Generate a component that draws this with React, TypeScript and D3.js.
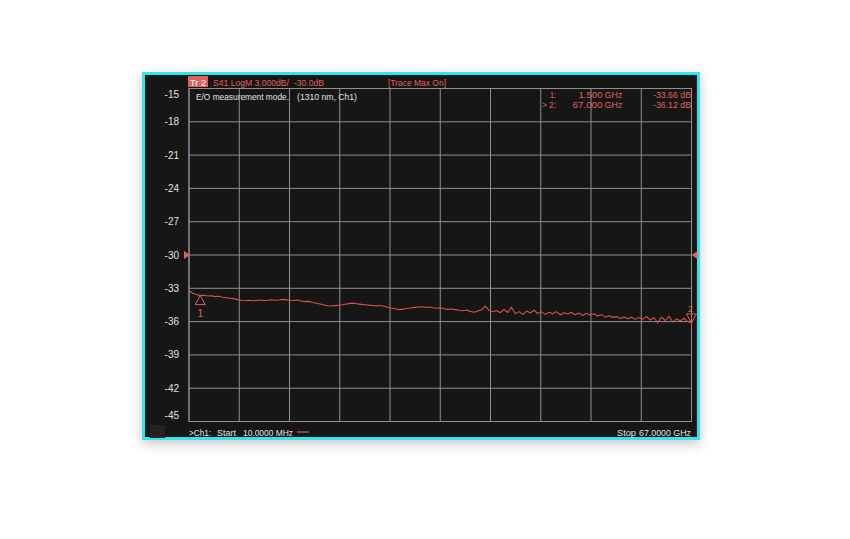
import React from "react";
import * as d3 from "d3";

// ---- data ----
const yTicks = [-15, -18, -21, -24, -27, -30, -33, -36, -39, -42, -45];
const freqStartGHz = 0.01;
const freqStopGHz = 67;
const freqStepGHz = 0.5;
const traceDb = [
  -33.2, -33.45, -33.55, -33.66, -33.62, -33.7, -33.68, -33.75, -33.72, -33.8,
  -33.85, -33.9, -33.95, -34.02, -34.1, -34.12, -34.08, -34.12, -34.1, -34.06,
  -34.1, -34.08, -34.03, -34.08, -34.05, -34.0, -34.04, -34.08, -34.1, -34.06,
  -34.15, -34.2, -34.18, -34.28, -34.35, -34.42, -34.5, -34.58, -34.6, -34.56,
  -34.52, -34.48, -34.42, -34.36, -34.34, -34.4, -34.45, -34.48, -34.52, -34.55,
  -34.58, -34.55, -34.62, -34.7, -34.78, -34.85, -34.92, -34.88, -34.82, -34.78,
  -34.72, -34.7, -34.66, -34.72, -34.68, -34.75, -34.8, -34.76, -34.85, -34.9,
  -34.86, -34.92, -34.98, -35.02, -34.96, -35.08, -35.15, -35.05, -34.95, -34.6,
  -34.98, -35.12, -35.0, -35.2, -34.9, -35.18, -34.7, -35.3, -35.1, -35.35,
  -35.05, -35.22, -34.98, -35.28, -35.12, -35.35, -35.15, -35.3, -35.1, -35.4,
  -35.2, -35.32, -35.15, -35.38, -35.22, -35.45, -35.25, -35.4, -35.3, -35.5,
  -35.35, -35.6, -35.48, -35.62, -35.55, -35.72, -35.58, -35.75, -35.6, -35.8,
  -35.62, -35.78, -35.55, -35.85, -35.65, -36.1, -35.6, -35.9, -35.5, -36.05,
  -35.75, -35.95, -35.7, -36.0, -36.12,
];
const markerFreqs = [1.5, 67];
const markerVals = [-33.66, -36.12];
const markerIds = ["1:", "> 2:"];
const markerFreqLabels = ["1.500", "67.000"];
const markerValLabels = ["-33.66 dB", "-36.12 dB"];
const refLevel = -30;

const RED = "#e0605c";
const TRACE = "#d4524d";
const GRID = "#8f8f8f";
const TXT = "#e2e2e2";
const FONT = "'Liberation Sans', Arial, sans-serif";

// text fitted to a measured span
function T({ x, y, w, fill, size = 9, anchor = "start", children }: any) {
  return (
    <text x={x} y={y} fontSize={size} fill={fill} textAnchor={anchor} textLength={w} lengthAdjust="spacingAndGlyphs">
      {children}
    </text>
  );
}

export default function App() {
  const L = 189, R = 691.5, Tp = 88.5, B = 421.5;
  const x = d3.scaleLinear().domain([0, 67]).range([L, R]);
  const y = d3.scaleLinear().domain([-15, -45]).range([Tp, B]);
  const pts = traceDb.map((v, i) => [Math.min(freqStopGHz, i === 0 ? freqStartGHz : i * freqStepGHz), v] as [number, number]);
  const line = d3.line<[number, number]>().x((d) => x(d[0])).y((d) => y(d[1]));
  const xGrid = d3.range(0, 11).map((i) => L + ((R - L) * i) / 10);

  const m1x = x(markerFreqs[0]), m1y = y(markerVals[0]);
  const m2x = x(markerFreqs[1]), m2y = y(markerVals[1]);

  const idW = [6, 14];
  const fW = [24, 30];
  const vW = [38, 38];

  return (
    <svg width={850} height={539} style={{ position: "absolute", left: 0, top: 0 }} fontFamily={FONT}>
      <defs>
        <filter id="sh" x="-10%" y="-10%" width="120%" height="130%">
          <feDropShadow dx="0" dy="4" stdDeviation="6" floodColor="#000" floodOpacity="0.22" />
        </filter>
      </defs>
      <rect x={0} y={0} width={850} height={539} fill="#ffffff" />
      <rect x={142} y={72} width={558} height={368} fill="#2ee6f0" filter="url(#sh)" />
      <rect x={145} y={75} width={552} height={362} fill="#161616" />
      <rect x={150} y={425} width={15} height={13} fill="#222" />

      {/* grid */}
      {yTicks.map((t) => (
        <line key={"h" + t} x1={L} x2={R} y1={y(t)} y2={y(t)} stroke={GRID} strokeWidth={1} />
      ))}
      {xGrid.map((gx, i) => (
        <line key={"v" + i} x1={gx} x2={gx} y1={Tp} y2={B} stroke={GRID} strokeWidth={1} />
      ))}
      <rect x={L} y={Tp} width={R - L} height={B - Tp} fill="none" stroke={GRID} strokeWidth={1} />

      {/* y labels */}
      {yTicks.map((t) => (
        <text key={"l" + t} x={179} y={Math.min(415, Math.max(94, y(t)))} dy="0.35em" textAnchor="end" fontSize={10} fill={TXT}>
          {t}
        </text>
      ))}

      {/* reference arrows */}
      <path d={`M${L - 5},${y(refLevel) - 4} L${L + 1},${y(refLevel)} L${L - 5},${y(refLevel) + 4} Z`} fill={RED} />
      <path d={`M${R + 6},${y(refLevel) - 4} L${R},${y(refLevel)} L${R + 6},${y(refLevel) + 4} Z`} fill={RED} />

      {/* trace */}
      <path d={line(pts) || ""} fill="none" stroke={TRACE} strokeWidth={1.1} strokeLinejoin="round" />

      {/* marker 1 */}
      <path d={`M${m1x},${m1y} L${m1x + 5},${m1y + 9} L${m1x - 5},${m1y + 9} Z`} fill="none" stroke={RED} strokeWidth={1} />
      <text x={m1x} y={m1y + 21} textAnchor="middle" fontSize={10} fill={RED}>1</text>
      {/* marker 2 */}
      <path d={`M${m2x},${m2y} L${m2x + 5},${m2y - 9} L${m2x - 5},${m2y - 9} Z`} fill="none" stroke={RED} strokeWidth={1} />
      <line x1={m2x} x2={m2x} y1={m2y - 9} y2={m2y + 6} stroke={RED} strokeWidth={0.8} />
      <text x={m2x - 1} y={m2y - 11} textAnchor="middle" fontSize={9} fill={RED}>2</text>

      {/* header */}
      <rect x={188} y={76} width={20} height={11} fill={RED} />
      <T x={190} y={86} w={16} fill="#fff">Tr 2</T>
      <T x={213} y={86} w={76} fill={RED}>S41 LogM 3.000dB/</T>
      <T x={294} y={86} w={30} fill={RED}>-30.0dB</T>
      <T x={388} y={86} w={58} fill={RED}>[Trace Max On]</T>
      <T x={196} y={99.5} w={93} fill={TXT}>E/O measurement mode.</T>
      <T x={297} y={99.5} w={60} fill={TXT}>(1310 nm, Ch1)</T>

      {/* marker table */}
      {markerIds.map((m, i) => (
        <T key={"m" + i} x={556} y={98 + i * 10} w={idW[i]} anchor="end" fill={RED}>{m}</T>
      ))}
      {markerFreqLabels.map((f, i) => (
        <T key={"f" + i} x={602.5} y={98 + i * 10} w={fW[i]} anchor="end" fill={RED}>{f}</T>
      ))}
      {markerFreqLabels.map((f, i) => (
        <T key={"g" + i} x={604.5} y={98 + i * 10} w={18} fill={RED}>GHz</T>
      ))}
      {markerValLabels.map((v, i) => (
        <T key={"v" + i} x={691} y={98 + i * 10} w={vW[i]} anchor="end" fill={RED}>{v}</T>
      ))}

      {/* footer */}
      <T x={189} y={436} w={22} fill={TXT}>{">Ch1:"}</T>
      <T x={217} y={436} w={19} fill={TXT}>Start</T>
      <T x={243} y={436} w={50} fill={TXT}>10.0000 MHz</T>
      <line x1={297} x2={309} y1={432} y2={432} stroke={RED} strokeWidth={1.2} />
      <T x={617} y={436} w={19} fill={TXT}>Stop</T>
      <T x={639} y={436} w={52} fill={TXT}>67.0000 GHz</T>
    </svg>
  );
}
